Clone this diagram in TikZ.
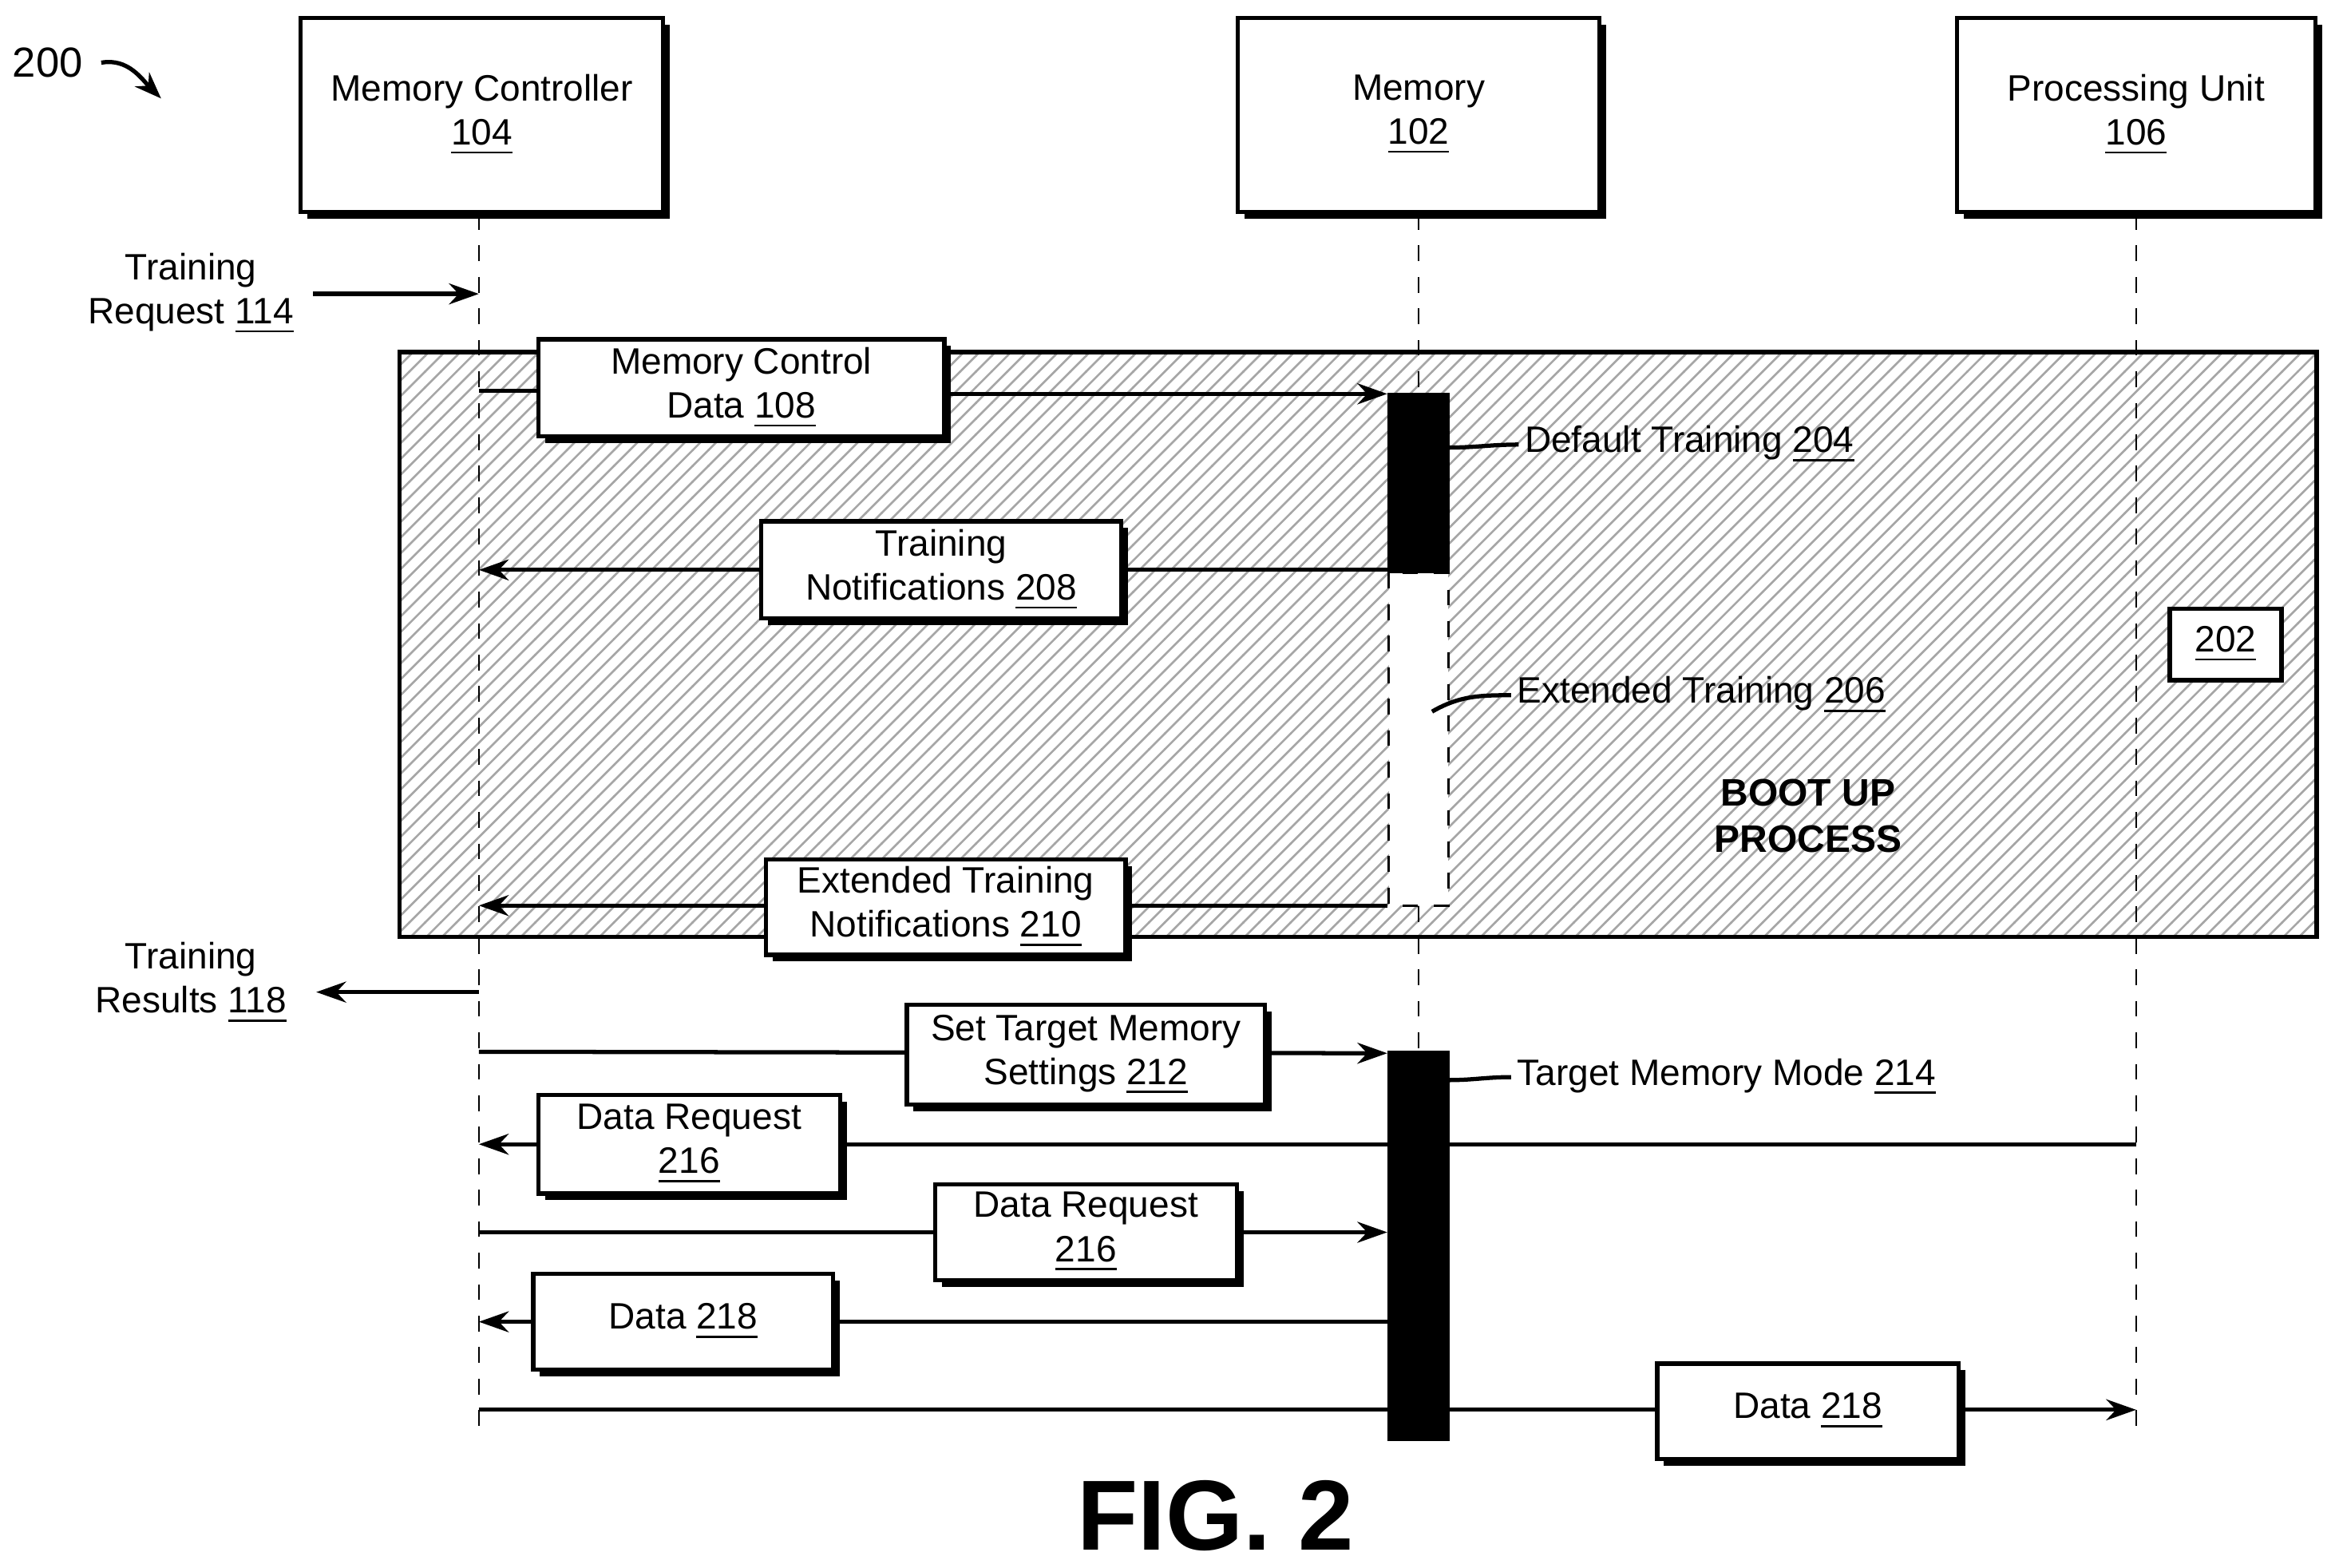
\documentclass[tikz,border=0pt]{standalone}
\usepackage{fontspec}
\setmainfont{Liberation Sans}
\usetikzlibrary{arrows.meta,patterns,shadows}

\begin{document}
\begin{tikzpicture}[x=0.01cm, y=-0.01cm, font=\fontsize{7}{8.4}\selectfont]
    % Styles
    \tikzset{
      box/.style={draw=black, thick, fill=white, align=center, inner sep=0pt,
        drop shadow={shadow xshift=0.045cm, shadow yshift=-0.045cm, fill=black, opacity=1}},
      arrow/.style={thick, -{Stealth[length=0.2cm, width=0.14cm]}},
      life/.style={dashed, thin},
      bar/.style={fill=black, draw=black}
    }
    \useasboundingbox (0,0) rectangle (1568,1051);

    % Boot-up region
    \draw[thick, pattern=north east lines, pattern color=gray!70] (268,236) rectangle (1553,628);

    % Lifelines
    \node[box, minimum width=2.43cm, minimum height=1.3cm] (MC) at (323,77) {Memory Controller\\\underline{104}};
    \node[box, minimum width=2.42cm, minimum height=1.3cm] (MEM) at (951,77) {Memory\\\underline{102}};
    \node[box, minimum width=2.4cm, minimum height=1.3cm] (PU) at (1432,77) {Processing Unit\\\underline{106}};
    \coordinate (MCend) at (321,960);
    \coordinate (MEMend) at (951,960);
    \coordinate (PUend) at (1432,960);
    \draw[life] (MC.south -| MCend) -- (MCend);
    \draw[life] (MEM.south) -- (MEMend);
    \draw[life] (PU.south) -- (PUend);

    % Activation bars
    \draw[bar] (931,264) rectangle (971,384);
    \draw[dashed, fill=white] (931,384) rectangle (971,607);
    \draw[bar] (931,705) rectangle (971,965);

    % Fig number
    \node (N200) at (32,42) {\fontsize{8}{9}\selectfont 200};
    \coordinate (N200tip) at (108,66);
    \draw[thick, -{Stealth[length=0.18cm]}] (N200.east) to[out=10, in=135] (N200tip);

    % External messages
    \node[align=center] (TReq) at (128,197) {Training\\Request \underline{114}};
    \coordinate (c114) at (321,197);
    \draw[arrow] (210,197) -- (c114);
    \node[align=center] (TRes) at (128,659) {Training\\Results \underline{118}};
    \draw[arrow] (321,665) -- (212,665);

    % Messages
    \draw[arrow] (321,262) -- (361,262) (633,264) -- (930,264);
    \node[box, minimum width=2.72cm, minimum height=0.65cm] (M108) at (497,260) {Memory Control\\Data \underline{108}};
    \draw[arrow] (930,382) -- (321,382);
    \node[box, minimum width=2.41cm, minimum height=0.65cm] (M208) at (631,382) {Training\\Notifications \underline{208}};
    \draw[arrow] (930,607) -- (321,607);
    \node[box, minimum width=2.41cm, minimum height=0.64cm] (M210) at (634,608) {Extended Training\\Notifications \underline{210}};
    \draw[arrow] (321,705) -- (930,706);
    \node[box, minimum width=2.4cm, minimum height=0.67cm] (M212) at (728,707) {Set Target Memory\\Settings \underline{212}};
    \draw[arrow] (1432,767) -- (321,767);
    \node[box, minimum width=2.02cm, minimum height=0.66cm] (M216a) at (462,767) {Data Request\\\underline{216}};
    \draw[arrow] (321,826) -- (930,826);
    \node[box, minimum width=2.02cm, minimum height=0.64cm] (M216b) at (728,826) {Data Request\\\underline{216}};
    \draw[arrow] (930,886) -- (321,886);
    \node[box, minimum width=2.01cm, minimum height=0.64cm] (M218a) at (458,886) {Data \underline{218}};
    \draw[arrow] (321,945) -- (1432,945);
    \node[box, minimum width=2.02cm, minimum height=0.64cm] (M218b) at (1212,946) {Data \underline{218}};

    % Annotations
    \node[anchor=west, inner sep=1pt] (L204) at (1018,298) {Default Training \underline{204}};
    \draw[thick] (971,300) to[out=0, in=180] (L204.west);
    \node[anchor=west, inner sep=1pt] (L206) at (1013,466) {Extended Training \underline{206}};
    \draw[thick] (960,477) to[out=30, in=180] (L206.west);
    \node[anchor=west, inner sep=1pt] (L214) at (1013,722) {Target Memory Mode \underline{214}};
    \draw[thick] (971,724) to[out=0, in=180] (L214.west);
    \node[draw, thick, fill=white, minimum width=0.75cm, minimum height=0.48cm] (B202) at (1492,432) {\underline{202}};
    \node[align=center, font=\fontsize{7.3}{8.8}\selectfont\bfseries] (BOOT) at (1212,547) {BOOT UP\\PROCESS};
    \node[font=\fontsize{19}{21}\selectfont\bfseries] (FIG) at (815,1016) {FIG. 2};
\end{tikzpicture}
\end{document}
